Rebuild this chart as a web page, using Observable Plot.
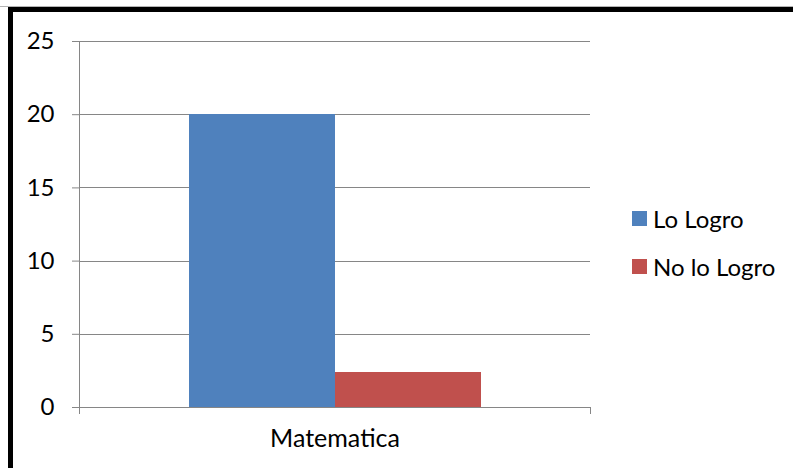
<!DOCTYPE html>
<html>
<head>
<meta charset="utf-8">
<script src="https://cdn.jsdelivr.net/npm/d3@7"></script>
<script src="https://cdn.jsdelivr.net/npm/@observablehq/plot@0.6"></script>
<style>
  html, body { margin: 0; padding: 0; background: #fff; width: 793px; height: 468px; overflow: hidden; font-family: Lato, "Open Sans", sans-serif; }
  #chart { position: absolute; left: 0; top: 0; }
  #topline { position: absolute; left: 0; top: 6px; width: 793px; height: 1px; background: #b4b4b4; }
  #border { position: absolute; left: 8px; top: 7px; width: 800px; height: 480px; border-top: 5px solid #000; border-left: 5px solid #000; pointer-events: none; }
  .legend { position: absolute; left: 632px; display: flex; align-items: center; font-size: 24px; color: #000; line-height: 30px; white-space: nowrap; }
  .legend .sw { width: 15px; height: 15px; margin-right: 6px; flex: none; }
  #chart svg g[aria-label="y-axis tick"] path, #chart svg g[aria-label="y-axis"] line { stroke: #868686; }
</style>
</head>
<body>
<div id="chart"></div>
<div id="topline"></div>
<div id="border"></div>
<div id="legend"></div>
<script>
const categories = ["Matematica"];
const series = ["Lo Logro", "No lo Logro"];
const values = [20, 2.4];
const colors = ["#4F81BD", "#C0504D"];
const yTicks = [0, 5, 10, 15, 20, 25];

const data = series.map((s, i) => ({category: categories[0], serie: s, value: values[i]}));
const gridColor = "#868686";

function axisLines(...args) {
  const dims = args.find(a => a && typeof a === "object" && a.marginLeft !== undefined && a.width !== undefined);
  const l = dims.marginLeft, r = dims.width - dims.marginRight;
  const t = dims.marginTop, b = dims.height - dims.marginBottom;
  const g = d3.create("svg:g").attr("stroke", gridColor).attr("stroke-width", 1).attr("shape-rendering", "crispEdges");
  g.append("line").attr("x1", l).attr("x2", l).attr("y1", t).attr("y2", b + 7);
  g.append("line").attr("x1", r).attr("x2", r).attr("y1", b).attr("y2", b + 7);
  return g.node();
}

const chart = Plot.plot({
  width: 793,
  height: 468,
  marginLeft: 79,
  marginRight: 203,
  marginTop: 41,
  marginBottom: 61,
  style: {fontFamily: "Lato, sans-serif", fontSize: "24px", color: "#000", background: "transparent", overflow: "visible"},
  x: {domain: series, paddingInner: 0, paddingOuter: 0.75, axis: null},
  y: {domain: [0, 25], ticks: yTicks, tickSize: 7, tickPadding: 18, label: null, tickFormat: d => String(d)},
  color: {domain: series, range: colors},
  marks: [
    Plot.ruleY(yTicks, {stroke: gridColor, strokeWidth: 1, shapeRendering: "crispEdges"}),
    Plot.barY(data, {x: "serie", y: "value", fill: "serie", shapeRendering: "crispEdges"}),
    axisLines,
    Plot.text(categories, {text: d => d, frameAnchor: "bottom", dy: 39, fontSize: 25, fill: "#000"})
  ]
});
document.getElementById("chart").appendChild(chart);

const legend = document.getElementById("legend");
const legendTops = [203.5, 251.5];
series.forEach((s, i) => {
  const item = document.createElement("div");
  item.className = "legend";
  item.style.top = legendTops[i] + "px";
  const sw = document.createElement("span");
  sw.className = "sw";
  sw.style.background = colors[i];
  const label = document.createElement("span");
  label.textContent = s;
  item.appendChild(sw);
  item.appendChild(label);
  legend.appendChild(item);
});
</script>
</body>
</html>
